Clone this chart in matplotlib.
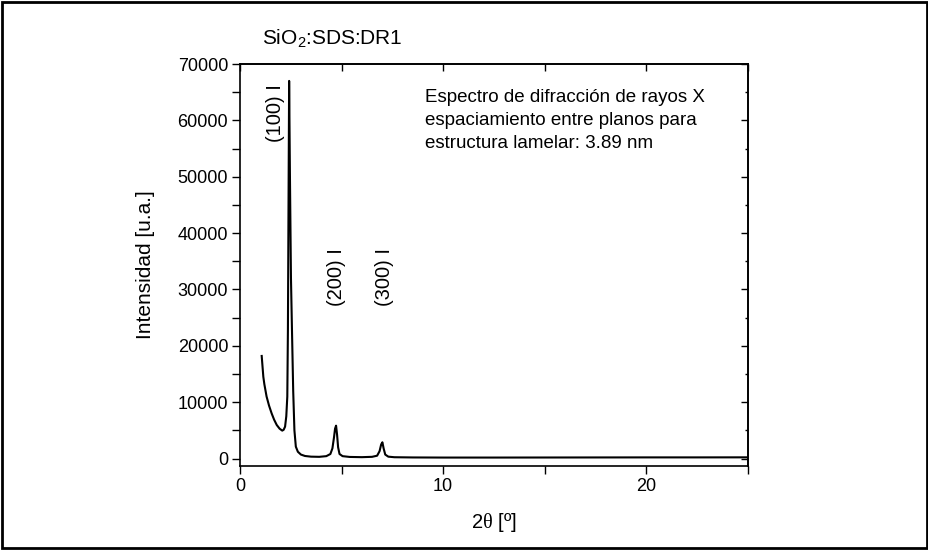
import numpy as np
import matplotlib
matplotlib.use("Agg")
import matplotlib.pyplot as plt
from matplotlib.ticker import MultipleLocator
from matplotlib.patches import Rectangle

plt.rcParams['font.family'] = ['Liberation Sans', 'DejaVu Sans']
plt.rcParams['mathtext.fontset'] = 'custom'
plt.rcParams['mathtext.rm'] = 'Liberation Sans'
plt.rcParams['mathtext.sf'] = 'Liberation Serif'

# XRD pattern (2theta in degrees, intensity in a.u.)
two_theta = [1.07, 1.1, 1.15, 1.2, 1.31, 1.43, 1.56, 1.68, 1.81, 1.95, 2.08, 2.15,
             2.22, 2.28, 2.33, 2.36, 2.39, 2.42, 2.46, 2.51, 2.56, 2.62, 2.68, 2.75,
             2.85, 3.0, 3.2, 3.5, 3.9, 4.25, 4.45, 4.55, 4.63, 4.68, 4.73, 4.78,
             4.83, 4.9, 5.05, 5.4, 6.0, 6.5, 6.75, 6.87, 6.95, 7.01, 7.07, 7.15,
             7.3, 7.6, 8.5, 10, 12.5, 15, 17.5, 20, 22.5, 25]
intensity = [18200, 16800, 14500, 13200, 11000, 9400, 8000, 6900, 5950, 5300, 4950, 5100,
             5650, 7500, 11000, 22800, 45000, 67000, 50000, 32000, 22800, 12000, 5000, 2100,
             1200, 700, 450, 330, 300, 420, 800, 1800, 3800, 5300, 5830, 4200,
             2000, 800, 420, 280, 240, 300, 500, 1300, 2500, 2880, 1800, 700,
             330, 230, 190, 170, 170, 180, 190, 200, 200, 210]

peak_labels = ['(100) I', '(200) I', '(300) I']
peak_x = [1.75, 4.75, 7.1]
peak_y = [66500, 37400, 37400]

note = ('Espectro de difracción de rayos X\n'
        'espaciamiento entre planos para\n'
        'estructura lamelar: 3.89 nm')

fig = plt.figure(figsize=(9.29, 5.5), dpi=100)
ax = fig.add_axes([0.2583, 0.1527, 0.5468, 0.7309])

ax.plot(two_theta, intensity, color='black', lw=1.5)

ax.set_xlim(0, 25)
ax.set_ylim(-1330, 70000)
ax.xaxis.set_major_locator(MultipleLocator(10))
ax.xaxis.set_minor_locator(MultipleLocator(5))
ax.yaxis.set_major_locator(MultipleLocator(10000))
ax.yaxis.set_minor_locator(MultipleLocator(5000))
ax.tick_params(which='both', direction='out', labelsize=13, width=1, length=5.5, pad=3)
for s in ax.spines.values():
    s.set_linewidth(1.2)

# inward ticks on top and right
top = ax.secondary_xaxis('top')
top.xaxis.set_major_locator(MultipleLocator(10))
top.xaxis.set_minor_locator(MultipleLocator(5))
top.tick_params(which='both', direction='in', labeltop=False, length=5, width=1)
top.spines['top'].set_linewidth(1.2)
right = ax.secondary_yaxis('right')
right.yaxis.set_major_locator(MultipleLocator(10000))
right.yaxis.set_minor_locator(MultipleLocator(5000))
right.tick_params(which='major', direction='in', labelright=False, length=5, width=1)
right.tick_params(which='minor', direction='in', labelright=False, length=2.5, width=1)
right.spines['right'].set_linewidth(1.2)

for lab, px, py in zip(peak_labels, peak_x, peak_y):
    ax.text(px, py, lab, rotation=90, ha='center', va='top', fontsize=14.5)

ax.text(9.1, 65500, note, ha='left', va='top', fontsize=13.5, linespacing=1.45)

ax.set_xlabel(r'2$\mathsf{\theta}$ [º]', fontsize=14.5, labelpad=12)
ax.set_ylabel('Intensidad [u.a.]', fontsize=15, labelpad=16)
fig.text(0.282, 0.93, r'SiO$_2$:SDS:DR1', fontsize=15, ha='left', va='center')

fig.patches.append(Rectangle((0.002, 0.003), 0.996, 0.994, transform=fig.transFigure,
                             fill=False, edgecolor='black', lw=2))

fig.savefig('out.png', dpi=100)
